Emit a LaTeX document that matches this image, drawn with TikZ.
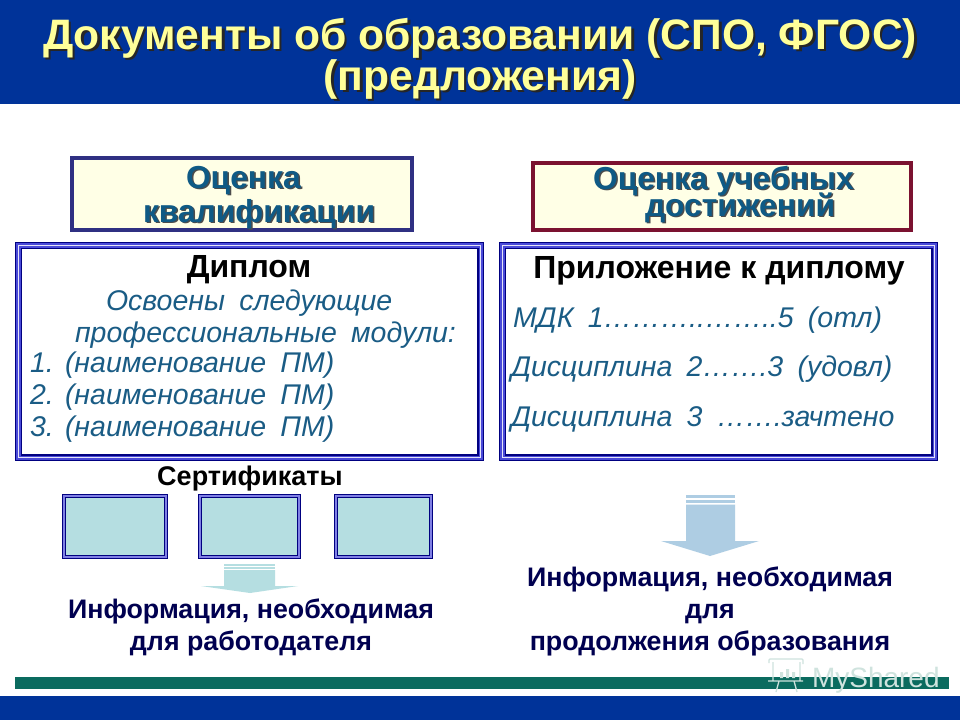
\documentclass[tikz,border=0pt]{standalone}
\usepackage{fontspec}
\setmainfont{Liberation Sans}
\newfontfamily\bodyfam[WordSpace=1.8]{Liberation Sans}
\definecolor{bandblue}{HTML}{003399}
\definecolor{titleyellow}{HTML}{FFFF99}
\definecolor{tealbar}{HTML}{0B6B5F}
\definecolor{navy}{HTML}{000080}
\definecolor{midblue}{HTML}{4A4AD8}
\definecolor{boxblue}{HTML}{2F3082}
\definecolor{boxred}{HTML}{7B1230}
\definecolor{cream}{HTML}{FFFFE6}
\definecolor{headblue}{HTML}{0F5A85}
\definecolor{infonavy}{HTML}{000050}
\definecolor{bodyblue}{HTML}{1A5C85}
\definecolor{certfill}{HTML}{B5DEE1}
\definecolor{arrowblue}{HTML}{AECDE3}
\definecolor{wmark}{HTML}{CFE3DE}
\newcommand{\shtxt}[4]{\makebox[0pt][l]{\kern#3\raisebox{-#3}{\color{#4}#2}}{\color{#1}#2}}
\tikzset{
  lbl/.style={anchor=base west,inner sep=0pt,outer sep=0pt},
  mid/.style={anchor=base,inner sep=0pt,outer sep=0pt},
  titlefont/.style={font=\fontsize{42.6}{48}\selectfont\bfseries},
  headfont/.style={font=\fontsize{31.8}{34}\selectfont\bfseries},
  blackhead/.style={font=\fontsize{32}{34}\selectfont\bfseries,text=black},
  body/.style={font=\bodyfam\fontsize{28.5}{30}\selectfont\itshape,text=bodyblue},
  info/.style={font=\fontsize{26.8}{28}\selectfont\bfseries,text=infonavy},
}
\newcommand{\dblbox}[5]{%
  \fill[navy] (#1,#2) rectangle (#3,#4);
  \fill[midblue] (#1+1.2,#2+1.2) rectangle (#3-1.2,#4-1.2);
  \fill[white!85!midblue] (#1+2.8,#2+2.8) rectangle (#3-2.8,#4-2.8);
  \fill[midblue] (#1+4,#2+4) rectangle (#3-4,#4-4);
  \fill[navy] (#1+#5-1.5,#2+#5-1.5) rectangle (#3-#5+1.5,#4-#5+1.5);
  \fill[white] (#1+#5,#2+#5) rectangle (#3-#5,#4-#5);
}
\newcommand{\certbox}[4]{%
  \fill[navy] (#1,#2) rectangle (#3,#4);
  \fill[midblue!70!white] (#1+1,#2+1) rectangle (#3-1,#4-1);
  \fill[navy] (#1+3.2,#2+3.2) rectangle (#3-3.2,#4-3.2);
  \fill[certfill] (#1+4.2,#2+4.2) rectangle (#3-4.2,#4-4.2);
}
\begin{document}
\begin{tikzpicture}[x=1pt,y=-1pt]
\useasboundingbox (0,0) rectangle (960,720);
\fill[white] (0,0) rectangle (960,720);
\fill[bandblue] (0,0) rectangle (960,104);
\fill[bandblue] (0,696) rectangle (960,720);
\fill[tealbar] (15,677) rectangle (949,689);
\node[mid,titlefont] (title1) at (480,49) {\shtxt{titleyellow}{Документы об образовании (СПО, ФГОС)}{2.5pt}{black!85}};
\node[mid,titlefont] (title2) at (480,90) {\shtxt{titleyellow}{(предложения)}{2.5pt}{black!85}};
% header boxes
\draw[boxblue,line width=4pt,fill=cream] (72,158) rectangle (412,230);
\draw[boxred,line width=4pt,fill=cream] (533,163) rectangle (911,230);
\node[lbl,headfont] (ocq1) at (186,188) {\shtxt{headblue}{Оценка}{1.5pt}{black!70}};
\node[lbl,headfont] (ocq2) at (143,222) {\shtxt{headblue}{квалификации}{1.5pt}{black!70}};
\node[lbl,headfont] (ocu1) at (593,189) {\shtxt{headblue}{Оценка учебных}{1.5pt}{black!70}};
\node[lbl,headfont] (ocu2) at (645,216) {\shtxt{headblue}{достижений}{1.5pt}{black!70}};
% large boxes
\dblbox{15}{242}{484}{461}{7}
\dblbox{499}{242}{938}{461}{7}
\node[mid,blackhead] (dip) at (249,277) {Диплом};
\node[mid,blackhead] (pril) at (719,278) {Приложение к диплому};
\node[lbl,body] (a1) at (106,310) {Освоены следующие};
\node[lbl,body] (a2) at (75,342) {профессиональные модули:};
\node[lbl,body] (n1) at (30,372) {1.};
\node[lbl,body] (p1) at (65,372) {(наименование ПМ)};
\node[lbl,body] (n2) at (30,404) {2.};
\node[lbl,body] (p2) at (65,404) {(наименование ПМ)};
\node[lbl,body] (n3) at (30,436) {3.};
\node[lbl,body] (p3) at (65,436) {(наименование ПМ)};
\node[lbl,body] (b1) at (513,327) {МДК 1………..……..5 (отл)};
\node[lbl,body] (b2) at (511,376) {Дисциплина 2…….3 (удовл)};
\node[lbl,body] (b3) at (511,426) {Дисциплина 3 …….зачтено};
% certificates
\node[mid,font=\fontsize{27}{28}\selectfont\bfseries,text=black] (cert) at (250,485) {Сертификаты};
\certbox{62}{494}{168}{559}
\certbox{198}{494}{301}{559}
\certbox{334}{494}{433}{559}
% left arrow
\fill[certfill] (224,564) rectangle (275,565.5);
\fill[certfill] (224,567) rectangle (275,568.5);
\fill[certfill] (224,570) -- (275,570) -- (275,586) -- (298,586) -- (250,593) -- (201,586) -- (224,586) -- cycle;
% right arrow
\fill[arrowblue] (686,495) rectangle (735,497.5);
\fill[arrowblue] (686,499.5) rectangle (735,502.5);
\fill[arrowblue] (686,504.5) -- (735,504.5) -- (735,541) -- (759,541) -- (710,556) -- (661,541) -- (686,541) -- cycle;
% info texts
\node[mid,info] (il1) at (251,618) {Информация, необходимая};
\node[mid,info] (il2) at (251,650) {для работодателя};
\node[mid,info] (ir1) at (710,586) {Информация, необходимая};
\node[mid,info] (ir2) at (710,618) {для};
\node[mid,info] (ir3) at (710,650) {продолжения образования};
% watermark
\node[lbl,font=\fontsize{28}{30}\selectfont,text=wmark] (wm) at (812,687) {MyShared};
\draw[wmark,line width=1.3pt,rounded corners=1pt] (769,663) -- (769,659) -- (803,659) -- (803,664);
\draw[wmark,line width=1.3pt] (773,662) -- (773,681) -- (800,681) -- (800,662) (768,681) -- (803,681) (779,681) -- (776,692) (794,681) -- (797,692);
\fill[wmark] (780,672) rectangle (783,678) (786,669) rectangle (789,678) (792,672) rectangle (795,678);
\end{tikzpicture}
\end{document}
